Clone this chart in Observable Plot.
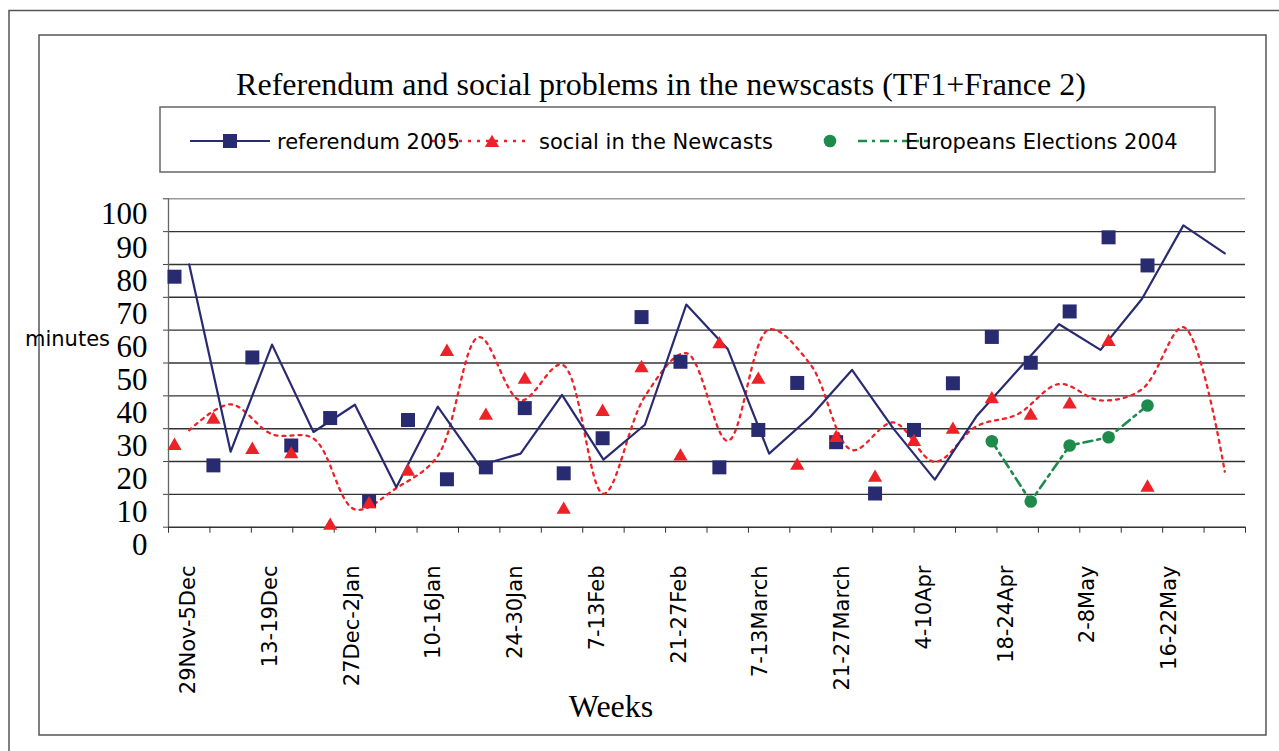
<!DOCTYPE html>
<html>
<head>
<meta charset="utf-8">
<script src="https://cdn.jsdelivr.net/npm/d3@7"></script>
<script src="https://cdn.jsdelivr.net/npm/@observablehq/plot@0.6"></script>
<style>
  html, body { margin: 0; padding: 0; background: #fff; }
  #chart { position: relative; width: 1279px; height: 751px; overflow: hidden; }
  #chart > svg { position: absolute; left: 0; top: 0; }
</style>
</head>
<body>
<div id="chart"></div>
<script>
// Weekly news airtime (minutes), TF1 + France 2
const weeks = [
  "29Nov-5Dec", "6-12Dec", "13-19Dec", "20-26Dec", "27Dec-2Jan", "3-9Jan",
  "10-16Jan", "17-23Jan", "24-30Jan", "31Jan-6Feb", "7-13Feb", "14-20Feb",
  "21-27Feb", "28Feb-6March", "7-13March", "14-20March", "21-27March", "28March-3Apr",
  "4-10Apr", "11-17Apr", "18-24Apr", "25Apr-1May", "2-8May", "9-15May",
  "16-22May", "23-29May"
];
const referendum = [80, 23, 55.6, 29, 37.3, 12.2, 36.7, 18.8, 22.4, 40.3, 20.6, 31.2, 67.8,
  54.3, 22.4, 33.7, 47.9, 30, 14.5, 33.7, 47.8, 61.8, 54, 69.5, 91.9, 83.4];
const social = [29.5, 37.4, 28.3, 27.0, 5.4, 11.9, 21.7, 57.9, 38.6, 49.5, 10.2, 39.8, 53.0,
  26.3, 60.2, 49.5, 23.5, 31.9, 19.9, 30.7, 34.4, 43.6, 38.6, 42.0, 60.9, 16.9];
const europeans2004 = [null, null, null, null, null, null, null, null, null, null, null, null, null,
  null, null, null, null, null, null, null, null, 30.3, 12.1, 29.0, 31.5, 41.1];
const yTicks = [0, 10, 20, 30, 40, 50, 60, 70, 80, 90, 100];

const seriesNames = ["referendum 2005", "social in the Newcasts", "Europeans Elections 2004"];
const title = "Referendum and social problems in the newscasts (TF1+France 2)";

const W = 1279, H = 751;
const navy = "#282b70", red = "#ec2228", green = "#1e8a4c";
const sans = "'DejaVu Sans', Verdana, sans-serif";
const serif = "'Liberation Serif', 'Times New Roman', serif";

const rows = weeks.map((week, i) => ({
  i, week,
  referendum: referendum[i],
  social: social[i],
  europeans: europeans2004[i]
}));

const chart = document.getElementById("chart");

// Page frame, title, legend and axis titles
const deco = d3.create("svg").attr("width", W).attr("height", H);
deco.append("rect").attr("x", 9).attr("y", 10.5).attr("width", 1290).attr("height", 760)
  .attr("fill", "none").attr("stroke", "#555").attr("stroke-width", 1.5);
deco.append("rect").attr("x", 39).attr("y", 35).attr("width", 1227).attr("height", 700)
  .attr("fill", "none").attr("stroke", "#555").attr("stroke-width", 1.5);
deco.append("text").attr("x", 661).attr("y", 95).attr("text-anchor", "middle")
  .attr("font-family", serif).attr("font-size", 32).text(title);

const lg = deco.append("g");
lg.append("rect").attr("x", 160).attr("y", 107).attr("width", 1055).attr("height", 65)
  .attr("fill", "none").attr("stroke", "#666").attr("stroke-width", 1.5);
lg.append("line").attr("x1", 190).attr("x2", 270).attr("y1", 141).attr("y2", 141)
  .attr("stroke", navy).attr("stroke-width", 2);
lg.append("rect").attr("x", 223).attr("y", 134).attr("width", 14).attr("height", 14).attr("fill", navy);
lg.append("line").attr("x1", 432).attr("x2", 530).attr("y1", 141).attr("y2", 141)
  .attr("stroke", red).attr("stroke-width", 2.5).attr("stroke-dasharray", "3,6");
lg.append("path").attr("d", d3.symbol(d3.symbolTriangle, 88)()).attr("transform", "translate(492,143)").attr("fill", red);
lg.append("circle").attr("cx", 830).attr("cy", 141).attr("r", 6.3).attr("fill", green);
lg.append("line").attr("x1", 858).attr("x2", 930).attr("y1", 141).attr("y2", 141)
  .attr("stroke", green).attr("stroke-width", 2.6).attr("stroke-dasharray", "9,5,3,5");
[[277, seriesNames[0]], [539, seriesNames[1]], [905, seriesNames[2]]].forEach(([x, t]) =>
  lg.append("text").attr("x", x).attr("y", 149).attr("font-family", sans).attr("font-size", 21).text(t));

deco.append("text").attr("x", 25).attr("y", 346).attr("font-family", sans).attr("font-size", 21).text("minutes");
deco.append("text").attr("x", 611).attr("y", 717).attr("text-anchor", "middle")
  .attr("font-family", serif).attr("font-size", 32).text("Weeks");
chart.append(deco.node());

function layer(opts) {
  const svg = Plot.plot({width: W, height: H, style: {background: "transparent", overflow: "visible"}, ...opts});
  chart.append(svg);
  return svg;
}

// Grid, axes and the two weekly lines
layer({
  marginLeft: 168, marginRight: W - 1245, marginTop: 198.3, marginBottom: H - 526.7,
  x: {type: "linear", domain: [-0.5, weeks.length - 0.5]},
  y: {domain: [0, 100]},
  marks: [
    Plot.ruleY(yTicks.filter(d => d > 0 && d < 100), {stroke: "#333", strokeWidth: 1.4}),
    Plot.ruleY([100], {stroke: "#999", strokeWidth: 1.4}),
    Plot.ruleX([-0.5], {stroke: "#666", strokeWidth: 1.3}),
    Plot.ruleY([0], {stroke: "#333", strokeWidth: 1.6}),
    Plot.axisY({ticks: yTicks, tickSize: 5, tickFormat: () => "", label: null, stroke: "#444"}),
    Plot.axisX({ticks: d3.range(weeks.length + 1).map(k => k - 0.5), tickSize: 6, tickFormat: () => "", label: null, stroke: "#333"}),
    Plot.line(rows, {x: "i", y: "social", curve: "catmull-rom", stroke: red, strokeWidth: 2.3, strokeDasharray: "3,5"}),
    Plot.line(rows, {x: "i", y: "referendum", stroke: navy, strokeWidth: 2.2})
  ]
});

// Markers, the 2004 series line and the value labels
layer({
  marginLeft: 174, marginRight: W - 1147, marginTop: 210, marginBottom: H - 541,
  x: {type: "linear", domain: [0, weeks.length - 1], axis: null},
  y: {domain: [0, 100]},
  marks: [
    Plot.axisY({ticks: yTicks, tickSize: 0, tickPadding: 27, fontFamily: serif, fontSize: 31, dy: 4, label: null, fill: "#000"}),
    Plot.line(rows, {x: "i", y: "europeans", stroke: green, strokeWidth: 2.6, strokeDasharray: "9,5,3,5"}),
    Plot.dot(rows, {x: "i", y: "referendum", symbol: "square", r: 7.9, fill: navy}),
    Plot.dot(rows, {x: "i", y: "social", symbol: "triangle", r: 5.3, fill: red, dy: 2}),
    Plot.dot(rows, {x: "i", y: "europeans", r: 6.3, fill: green})
  ]
});

// Week labels, every other week
layer({
  marginLeft: 188, marginRight: W - 1169, marginTop: 565, marginBottom: 0,
  x: {type: "linear", domain: [0, 24], axis: null},
  marks: [
    Plot.text(rows.filter(d => d.i % 2 === 0), {
      x: "i", text: "week", frameAnchor: "top", rotate: -90,
      textAnchor: "end", lineAnchor: "middle", fontFamily: sans, fontSize: 21, fill: "#000"
    })
  ]
});
</script>
</body>
</html>
